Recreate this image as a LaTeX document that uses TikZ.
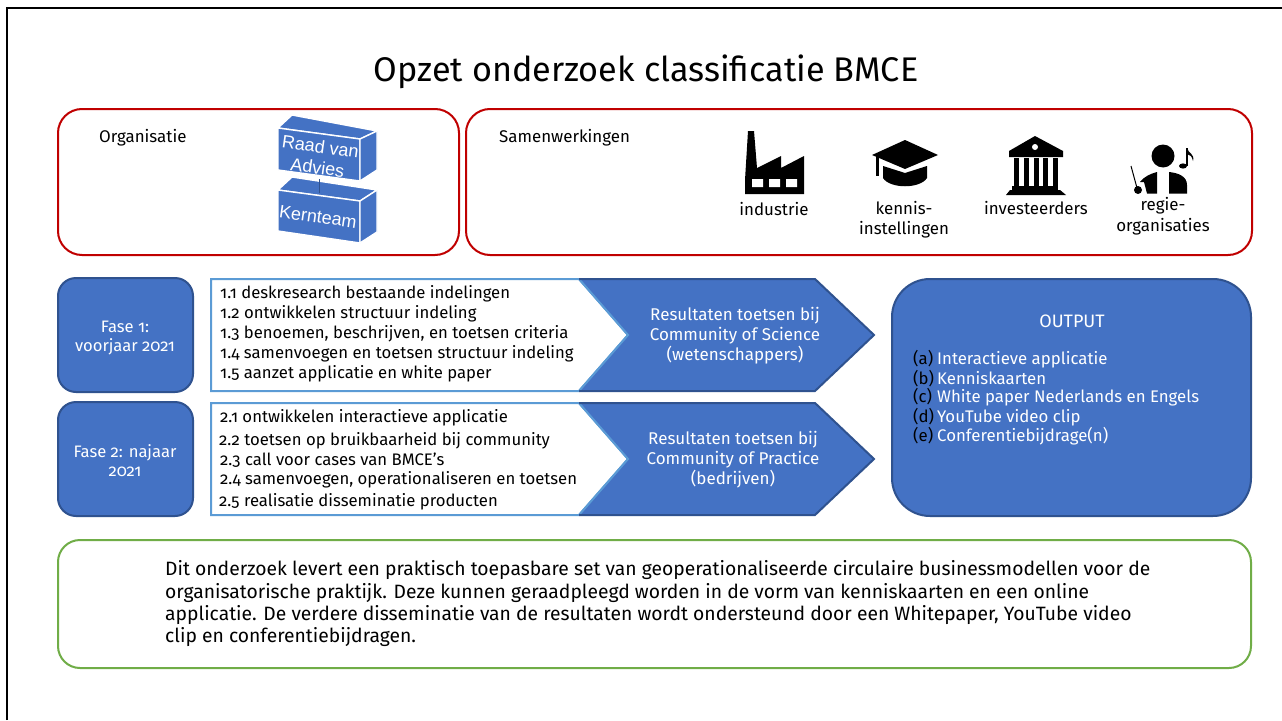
\documentclass[tikz,border=0pt]{standalone}
\usepackage{fontspec}
\setmainfont[Numbers=OldStyle]{Fira Sans}
\newfontfamily\cubefont{Liberation Sans}
\definecolor{blu}{HTML}{4472C4}
\definecolor{bld}{HTML}{2F528F}
\definecolor{lbl}{HTML}{5B9BD5}
\definecolor{rd}{HTML}{C00000}
\definecolor{grn}{HTML}{70AD47}
\tikzset{x=1pt,y=-1pt,
 redbox/.style={draw=rd,line width=2pt,rounded corners=24pt,fill=white},
 bluebox/.style={draw=bld,line width=2pt,fill=blu},
 listtext/.style={anchor=west,font=\fontsize{16.7}{20}\selectfont,inner sep=0pt},
 wt/.style={text=white,font=\fontsize{16.6}{19}\selectfont,align=center,inner sep=0pt},
 lab/.style={font=\fontsize{16.9}{20.5}\selectfont,align=center,inner sep=0pt},
 cube/.style={fill=blu,draw=white,line width=1.4pt,line join=round},
 cubetext/.style={text=white,font=\fontsize{18}{21}\selectfont\cubefont,rotate=-8,align=center,inner sep=0pt},
 res/.style={wt,font=\fontsize{17}{20}\selectfont},
 outrow/.style={anchor=west,inner sep=0pt,font=\fontsize{16.8}{20}\selectfont},
 ic/.style={fill=black,draw=none}}
\begin{document}
\begin{tikzpicture}
\useasboundingbox (0,0) rectangle (1282,720);
\fill[white] (0,0) rectangle (1282,720);
\coordinate (fa) at (7,720); \coordinate (fb) at (7,7.5); \coordinate (fc) at (1282,7.5);
\draw[line width=2pt,black] (fa)--(fb)--(fc);
\node (title) at (646,72) {\fontsize{34.2}{40}\selectfont Opzet onderzoek classificatie BMCE};
% top boxes
\draw[redbox] (58,109) rectangle (459,255);
\draw[redbox] (466,109) rectangle (1252,255);
\node[lab,anchor=west] (org) at (99,138) {Organisatie};
\node[lab,anchor=west] (sam) at (499,138) {Samenwerkingen};
% cubes
\draw[cube] (278,128) -- (292,115) -- (377,131) -- (360,139) -- cycle;
\draw[cube] (278,128) -- (360,139) -- (360,181) -- (278,170) -- cycle;
\draw[cube] (360,139) -- (377,131) -- (377,170) -- (360,181) -- cycle;
\draw[cube] (278,190) -- (292,177) -- (377,190) -- (360,201) -- cycle;
\draw[cube] (278,190) -- (360,201) -- (360,243) -- (278,231) -- cycle;
\draw[cube] (360,201) -- (377,190) -- (377,232) -- (360,243) -- cycle;
\coordinate (cu) at (319,179); \coordinate (cl) at (319,193);
\draw[bld,line width=.9pt] (cu) -- (cl);
\node[cubetext] (raad) at (319,157) {Raad van\\Advies};
\node[cubetext] (kern) at (318,217) {Kernteam};
% factory
\fill[ic] (745,194) -- (745,180) -- (748,131) -- (754,131) -- (757,168) -- (781,156) -- (781,168) -- (804,156) -- (804,194) -- cycle;
\fill[white] (752,179) rectangle (763,187) (769,179) rectangle (780,187) (786,179) rectangle (797,187);
% cap
\fill[ic] (872,155) -- (905,140) -- (938,155) -- (905,169) -- cycle;
\fill[ic] (883,166) -- (905,173) -- (927,166) -- (927,178) .. controls (920,189) and (890,189) .. (883,178) -- cycle;
\fill[ic] (876,156) rectangle (879,176);
% bank
\fill[ic] (1035,136) -- (1063,151) -- (1063,157) -- (1009,157) -- (1009,151) -- cycle;
\fill[white] (1035,147) circle (3pt);
\foreach \x in {1014,1024,1034,1043,1053}{\fill[ic] (\x,158) rectangle +(5,29);}
\fill[ic] (1012,186) rectangle (1058,190);
\fill[ic] (1010,190) -- (1060,190) -- (1066,195) -- (1006,195) -- cycle;
% conductor
\fill[ic] (1163,156) circle (11.5pt);
\fill[ic] (1147,193.5) -- (1144,182) -- (1140,182) .. controls (1145,176) and (1150,174) .. (1157,172) -- (1157,193.5) -- cycle;
\fill[ic] (1169,193.5) -- (1169,172) .. controls (1178,173) and (1187,176) .. (1187,185) -- (1187,193.5) -- cycle;
\draw[black,line width=1pt] (1131,166) -- (1137,188);
\fill[ic] (1138,190) circle (4pt);
\draw[white,line width=.8pt] (1142.5,185) -- (1145,194);
\fill[ic] (1183,166) ellipse (4pt and 2.6pt);
\fill[ic] (1186,148) rectangle (1187.5,166);
\fill[ic] (1187,148) .. controls (1188,153) and (1195,154) .. (1193,161) .. controls (1192,156) and (1190,155) .. (1187,154) -- cycle;
\node[lab] (n1) at (774,209) {industrie};
\node[lab] (n2) at (904,219.5) {kennis-\\instellingen};
\node[lab] (n3) at (1036,208.5) {investeerders};
\node[lab] (n4) at (1163,216) {regie-\\organisaties};
% phases
\draw[bluebox,rounded corners=18pt] (58,278) rectangle (193,392);
\draw[bluebox,rounded corners=18pt] (58,402) rectangle (193,516);
\node[wt] (f1) at (125,338) {Fase 1:\\voorjaar 2021};
\node[wt] (f2) at (125,461) {Fase 2: najaar\\2021};
% white lists
\draw[draw=lbl,line width=2pt,fill=white] (211,279) -- (579,279) -- (628,335) -- (579,391) -- (211,391) -- cycle;
\draw[draw=lbl,line width=2pt,fill=white] (211,403) -- (579,403) -- (628,459) -- (579,515) -- (211,515) -- cycle;
% chevrons
\path[fill=blu] (579,279) -- (815,279) -- (874,335) -- (815,391) -- (579,391) -- (628,335) -- cycle;
\path[fill=blu] (579,403) -- (815,403) -- (874,459) -- (815,515) -- (579,515) -- (628,459) -- cycle;
\draw[lbl,line width=2pt] (579,279) -- (628,335) -- (579,391);
\draw[lbl,line width=2pt] (579,403) -- (628,459) -- (579,515);
\draw[bld,line width=2pt] (579,279) -- (815,279) -- (874,335) -- (815,391) -- (579,391);
\draw[bld,line width=2pt] (579,403) -- (815,403) -- (874,459) -- (815,515) -- (579,515);
\node[listtext] at (220,294) {1.1 deskresearch bestaande indelingen};
\node[listtext] at (220,314) {1.2 ontwikkelen structuur indeling};
\node[listtext] at (220,334) {1.3 benoemen, beschrijven, en toetsen criteria};
\node[listtext] at (220,354) {1.4 samenvoegen en toetsen structuur indeling};
\node[listtext] at (220,374) {1.5 aanzet applicatie en white paper};
\node[listtext] at (220,418) {2.1 ontwikkelen interactieve applicatie};
\node[listtext] at (219,441) {2.2 toetsen op bruikbaarheid bij community};
\node[listtext] at (220,460) {2.3 call voor cases van BMCE’s};
\node[listtext] at (220,480) {2.4 samenvoegen, operationaliseren en toetsen};
\node[listtext] at (219,502) {2.5 realisatie disseminatie producten};
\node[res] (r1) at (735,336) {Resultaten toetsen bij\\Community of Science\\(wetenschappers)};
\node[res] (r2) at (733,460) {Resultaten toetsen bij\\Community of Practice\\(bedrijven)};
% output
\draw[bluebox,rounded corners=38pt] (892,279) rectangle (1251,516);
\node[wt,font=\fontsize{18}{20}\selectfont] (out) at (1072,321) {OUTPUT};
\foreach \l/\t/\y in {a/Interactieve applicatie/359,b/Kenniskaarten/379,c/White paper Nederlands en Engels/397.5,d/YouTube video clip/417.5,e/Conferentiebijdrage(n)/436.5}{
 \node[outrow] at (913,\y) {\makebox[24pt][l]{(\l)}\textcolor{white}{\t}};}
% bottom
\draw[draw=grn,line width=2pt,rounded corners=22pt,fill=white] (58,540) rectangle (1251,668);
\node[anchor=north west,inner sep=0pt,align=left,font=\fontsize{19.3}{22.3}\selectfont] (bt) at (165,560.5) {Dit onderzoek levert een praktisch toepasbare set van geoperationaliseerde circulaire businessmodellen voor de\\organisatorische praktijk. Deze kunnen geraadpleegd worden in de vorm van kenniskaarten en een online\\applicatie. De verdere disseminatie van de resultaten wordt ondersteund door een Whitepaper, YouTube video\\clip en conferentiebijdragen.};
\end{tikzpicture}
\end{document}
